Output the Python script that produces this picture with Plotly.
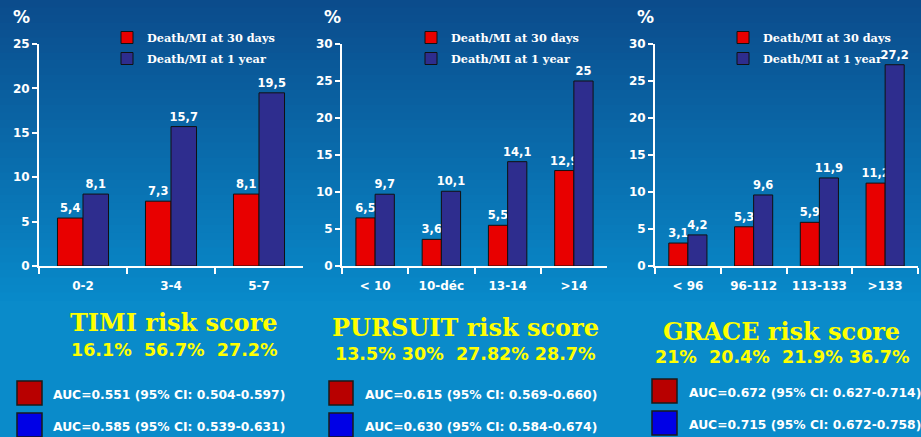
import plotly.graph_objects as go

W, H = 921, 437

# ---------------- data ----------------
timi_cats = ["0-2", "3-4", "5-7"]
timi_30d = [5.4, 7.3, 8.1]
timi_1y = [8.1, 15.7, 19.5]

pursuit_cats = ["< 10", "10-déc", "13-14", ">14"]
pursuit_30d = [6.5, 3.6, 5.5, 12.9]
pursuit_1y = [9.7, 10.1, 14.1, 25]

grace_cats = ["< 96", "96-112", "113-133", ">133"]
grace_30d = [3.1, 5.3, 5.9, 11.2]
grace_1y = [4.2, 9.6, 11.9, 27.2]

series_names = ["Death/MI at 30 days", "Death/MI at 1 year"]
score_titles = ["TIMI risk score", "PURSUIT risk score", "GRACE risk score"]
score_dist = ["16.1%  56.7%  27.2%", "13.5% 30%  27.82% 28.7%", "21%  20.4%  21.9% 36.7%"]
auc_30d = ["AUC=0.551 (95% CI: 0.504-0.597)", "AUC=0.615 (95% CI: 0.569-0.660)",
           "AUC=0.672 (95% CI: 0.627-0.714)"]
auc_1y = ["AUC=0.585 (95% CI: 0.539-0.631)", "AUC=0.630 (95% CI: 0.584-0.674)",
          "AUC=0.715 (95% CI: 0.672-0.758)"]
y_max = [25, 30, 30]

# ---------------- style ----------------
RED = "#e80000"
BLUE = "#2e2d8e"
SANS = "DejaVu Sans"
SERIF = "DejaVu Serif"
YELLOW = "#ffff00"


def px_x(p):
    return p / W


def px_y(p):
    return 1 - p / H


def fmt(v):
    return f"{v:g}".replace(".", ",")


panels = [
    (timi_cats, timi_30d, timi_1y),
    (pursuit_cats, pursuit_30d, pursuit_1y),
    (grace_cats, grace_30d, grace_1y),
]
x_domains = [(39, 303), (342, 607), (655, 918)]
legend_x = [107, 411, 723]

fig = go.Figure()
for i, (cats, v30, v1y) in enumerate(panels):
    sfx = "" if i == 0 else str(i + 1)
    leg = "legend" + sfx
    for name, vals, col in [(series_names[0], v30, RED), (series_names[1], v1y, BLUE)]:
        fig.add_trace(go.Bar(
            x=cats, y=vals, name=name,
            xaxis="x" + sfx, yaxis="y" + sfx, legend=leg,
            marker=dict(color=col, line=dict(color="#111111", width=1)),
            text=[fmt(v) for v in vals], textposition="outside",
            constraintext="none", cliponaxis=False,
            textfont=dict(family=SANS, size=11.5, color="white", weight="bold"),
            legendgroup=name + sfx,
        ))

layout = dict(
    width=W, height=H,
    margin=dict(l=0, r=0, t=0, b=0, pad=0, autoexpand=False),
    paper_bgcolor="#0a8bca",
    plot_bgcolor="rgba(0,0,0,0)",
    barmode="group", bargap=0.42, bargroupgap=0,
    showlegend=True,
)

for i in range(3):
    sfx = "" if i == 0 else str(i + 1)
    x0, x1 = x_domains[i]
    layout["xaxis" + sfx] = dict(
        domain=[px_x(x0), px_x(x1)], anchor="y" + sfx,
        showline=True, linecolor="white", linewidth=2,
        ticks="outside", tickson="boundaries", ticklen=6, tickwidth=2, tickcolor="white",
        tickfont=dict(family=SANS, size=12, color="white", weight="bold"),
        ticklabelstandoff=8, showgrid=False, zeroline=False, fixedrange=True,
        automargin=False,
    )
    layout["yaxis" + sfx] = dict(
        domain=[px_y(266), px_y(44)], anchor="x" + sfx,
        range=[0, y_max[i]], dtick=5,
        showline=True, linecolor="white", linewidth=2,
        ticks="outside", ticklen=5, tickwidth=2, tickcolor="white",
        tickfont=dict(family=SANS, size=12, color="white", weight="bold"),
        showgrid=False, zeroline=False, fixedrange=True, automargin=False,
    )
    layout["legend" + sfx] = dict(
        x=px_x(legend_x[i]), y=px_y(23), xanchor="left", yanchor="top",
        bgcolor="rgba(0,0,0,0)", borderwidth=0,
        font=dict(family=SERIF, size=11.3, color="white", weight="bold"),
        tracegroupgap=2, itemwidth=30,
    )

fig.update_layout(**layout)

# background gradient (decorative)
shapes = []
top = (11, 76, 140)
bot = (8, 137, 201)
n = 40
for k in range(n):
    t = k / (n - 1)
    c = tuple(round(top[j] + (bot[j] - top[j]) * t) for j in range(3))
    y0 = 300 * k / n
    y1 = 300 * (k + 1) / n + 1
    shapes.append(dict(type="rect", xref="paper", yref="paper", layer="below",
                       x0=0, x1=1, y0=px_y(y1), y1=px_y(y0),
                       fillcolor=f"rgb{c}", line=dict(width=0)))

# AUC boxes and texts
box_x = [(17, 42), (329, 353), (652, 677)]
box_y = [[(381, 405), (413, 437)], [(381, 405), (413, 437)], [(379, 403), (411, 435)]]
text_x = [51, 363, 687]
annotations = []
for i in range(3):
    for r, (fill, label) in enumerate([("#b80000", auc_30d[i]), ("#0000e6", auc_1y[i])]):
        yy0, yy1 = box_y[i][r]
        shapes.append(dict(type="rect", xref="paper", yref="paper",
                           x0=px_x(box_x[i][0]), x1=px_x(box_x[i][1]),
                           y0=px_y(yy1), y1=px_y(yy0),
                           fillcolor=fill, line=dict(color="#1a1a1a", width=1.5)))
        annotations.append(dict(xref="paper", yref="paper", x=px_x(text_x[i]),
                                y=px_y((yy0 + yy1) / 2 + 2), xanchor="left", yanchor="middle",
                                text=label, showarrow=False,
                                font=dict(family=SANS, size=12.3, color="white", weight="bold")))

title_pos = [(174, 322), (465, 327), (781, 331)]
sub_pos = [(174.5, 349.5), (465, 353.5), (782, 356.5)]
for i in range(3):
    annotations.append(dict(xref="paper", yref="paper", x=px_x(title_pos[i][0]),
                            y=px_y(title_pos[i][1]), xanchor="center", yanchor="middle",
                            text=score_titles[i], showarrow=False,
                            font=dict(family=SERIF, size=24, color=YELLOW, weight="bold")))
    annotations.append(dict(xref="paper", yref="paper", x=px_x(sub_pos[i][0]),
                            y=px_y(sub_pos[i][1]), xanchor="center", yanchor="middle",
                            text=score_dist[i], showarrow=False,
                            font=dict(family=SANS, size=17.5, color=YELLOW, weight="bold")))

pct_x = [21, 332, 645]
for i in range(3):
    annotations.append(dict(xref="paper", yref="paper", x=px_x(pct_x[i]), y=px_y(17),
                            xanchor="center", yanchor="middle", text="%", showarrow=False,
                            font=dict(family=SANS, size=17, color="white", weight="bold")))

fig.update_layout(shapes=shapes, annotations=annotations)
fig.write_html("out.html")
